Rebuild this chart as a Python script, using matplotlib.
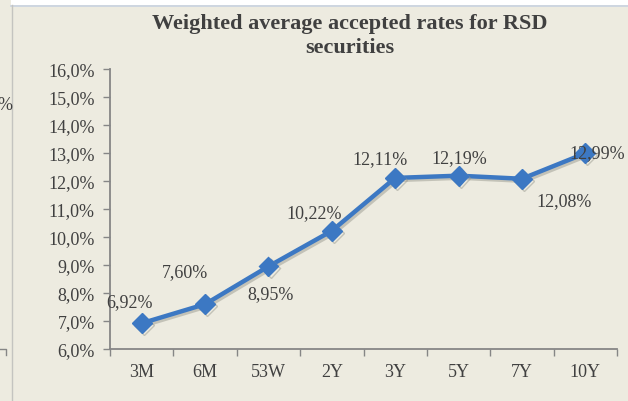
import matplotlib
matplotlib.use('Agg')
import matplotlib.pyplot as plt
import matplotlib.patheffects as pe
from matplotlib.ticker import FixedLocator, FuncFormatter

#----------------------------------------------------------------------|
# Data
categories = ['3M', '6M', '53W', '2Y', '3Y', '5Y', '7Y', '10Y']
rates = [6.92, 7.60, 8.95, 10.22, 12.11, 12.19, 12.08, 12.99]
# label placement per point: (dx px, dy px)
label_pos = [(-12, 22), (-20, 33), (2, -27), (-18, 18), (-15, 19), (1, 18),
             (42, -22), (12, 1)]

title = 'Weighted average accepted rates for RSD\nsecurities'

#----------------------------------------------------------------------|
W, H = 628, 402
bg = '#edebe0'
txt = '#404040'
blue = '#3c78c3'

plt.rcParams['font.family'] = ['Liberation Serif', 'DejaVu Serif']

fig = plt.figure(figsize=(W / 100, H / 100), dpi=100)
fig.patch.set_facecolor(bg)

# frame of the chart box (top strip + left border line)
fig.add_artist(plt.Rectangle((11 / W, (H - 6) / H), 1 - 11 / W, 6 / H,
                             transform=fig.transFigure, facecolor='white', edgecolor='none'))
fig.add_artist(plt.Line2D([11 / W, 1], [(H - 6.5) / H] * 2, transform=fig.transFigure,
                          color='#c8d2e0', lw=1.2))
fig.add_artist(plt.Line2D([11.5 / W] * 2, [0, (H - 6) / H], transform=fig.transFigure,
                          color='#c4c4c0', lw=1.0))
# clipped remnants on the left edge
fig.text(-3 / W, 1 - 105 / H, '%', fontsize=13, color=txt, va='center', ha='left')
fig.add_artist(plt.Line2D([0, 6 / W, 6 / W], [1 - 350 / H, 1 - 350 / H, 1 - 356 / H],
                          transform=fig.transFigure, color='#868686', lw=1.0))

x0, x1, y0, y1 = 110, 617, 70, 350
ax = fig.add_axes([x0 / W, 1 - y1 / H, (x1 - x0) / W, (y1 - y0) / H])
ax.set_facecolor(bg)

xs = list(range(len(categories)))
ax.plot(xs, rates, color=blue, lw=3.2, marker='D', markersize=10,
        markerfacecolor=blue, markeredgecolor=blue, zorder=3,
        path_effects=[pe.SimpleLineShadow(offset=(1.5, -1.5), shadow_color='#9a9a90', alpha=0.5),
                      pe.Normal()])

for x, v, (dx, dy) in zip(xs, rates, label_pos):
    ax.annotate(('%.2f%%' % v).replace('.', ','), (x, v), xytext=(dx * 0.72, dy * 0.72),
                textcoords='offset points', ha='center', va='center', fontsize=13,
                color=txt, zorder=4)

ax.set_xlim(-0.5, len(categories) - 0.5)
ax.set_ylim(6, 16)
ax.yaxis.set_major_locator(FixedLocator([6 + i for i in range(11)]))
ax.yaxis.set_major_formatter(FuncFormatter(lambda v, p: ('%.1f%%' % v).replace('.', ',')))

ax.xaxis.set_major_locator(FixedLocator([i - 0.5 for i in range(len(categories) + 1)]))
ax.xaxis.set_major_formatter(FuncFormatter(lambda v, p: ''))
ax.set_xticks(xs, categories, minor=True)

ax.tick_params(axis='x', which='major', length=5, width=1, color='#868686', direction='out')
ax.tick_params(axis='x', which='minor', length=0, pad=10, labelsize=13, labelcolor=txt)
ax.tick_params(axis='y', length=5, width=1, color='#868686', direction='out',
               pad=6, labelsize=13, labelcolor=txt)

for s in ['top', 'right']:
    ax.spines[s].set_visible(False)
for s in ['left', 'bottom']:
    ax.spines[s].set_color('#868686')
    ax.spines[s].set_linewidth(1.3)

fig.text(350 / W, 1 - 36 / H, title, ha='center', va='center', fontsize=16,
         fontweight='bold', color=txt, linespacing=1.25)

fig.savefig('out.png', dpi=100, facecolor=bg)
